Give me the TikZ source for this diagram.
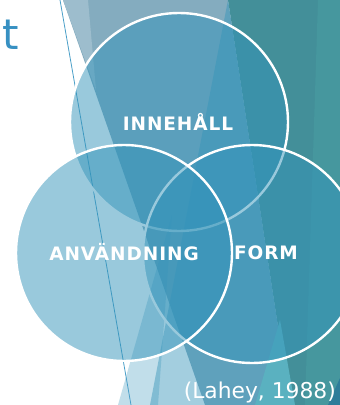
\documentclass[tikz,border=0pt]{standalone}
\usepackage{fontspec}
\setmainfont{Liberation Sans}
\newfontfamily\labelfont[LetterSpace=5]{DejaVu Sans}
\newfontfamily\citefont{DejaVu Sans}
\definecolor{slate}{HTML}{84ACBF}
\definecolor{slatelight}{HTML}{9DBDCD}
\definecolor{tealA}{HTML}{438F99}
\definecolor{tealB}{HTML}{46979E}
\definecolor{accent}{HTML}{3494BA}
\definecolor{turq}{HTML}{5AB1C0}
\definecolor{deep}{HTML}{2E7D9A}
\definecolor{titleblue}{HTML}{3790C2}
\definecolor{linecol}{HTML}{4A9FC8}
\tikzset{
  venn/.style={circle, draw=white, line width=2.4pt, fill=accent, fill opacity=0.5,
    text opacity=1, minimum size=#1, inner sep=0pt},
  vennlabel/.style={text=white, font=\labelfont\bfseries\fontsize{18.5}{20}\selectfont, inner sep=0pt},
  facet/.style={draw=none}
}
\begin{document}
\begin{tikzpicture}[x=1pt, y=-1pt]
\path[use as bounding box] (0,0) rectangle (340,405);
\clip (0,0) rectangle (340,405);
\fill[white] (0,0) rectangle (340,405);
% background facets
\fill[facet, slate] (63,0) -- (228,0) -- (290,405) -- (205,405) -- cycle;
\fill[facet, slatelight] (63,0) -- (88,0) -- (96,90) -- cycle;
\fill[facet, tealA] (228,0) -- (340,0) -- (340,405) -- (290,405) -- cycle;
\fill[facet, tealB] (318,0) -- (340,0) -- (340,405) -- (305,405) -- cycle;
\fill[facet, accent, opacity=0.45] (228,0) -- (290,405) -- (150,405) -- cycle;
\fill[facet, accent, opacity=0.3] (118,405) -- (172,215) -- (158,405) -- cycle;
\fill[facet, turq] (255,405) -- (280,320) -- (295,405) -- cycle;
\fill[facet, deep] (328,405) -- (340,378) -- (340,405) -- cycle;
\coordinate (lineA) at (60,0);
\coordinate (lineB) at (131,405);
\draw[linecol, line width=0.8pt] (lineA) -- (lineB);
% title fragment
\node[anchor=base west, inner sep=0pt, text=titleblue, font=\citefont\fontsize{42}{46}\selectfont] (title) at (2,49) {t};
% circles
\node[venn=218pt] (inne) at (179,122) {};
\node[venn=218pt] (form) at (252,254) {};
\node[venn=216pt] (anv) at (124,253) {};
% labels
\node[vennlabel] (inneL) at (178,122) {INNEHÅLL};
\node[vennlabel] (anvL) at (124,252) {ANVÄNDNING};
\node[vennlabel] (formL) at (266,253) {FORM};
\node[anchor=base east, inner sep=0pt, text=white, font=\citefont\fontsize{21.8}{26}\selectfont] (cite) at (336,398) {(Lahey, 1988)};
\end{tikzpicture}
\end{document}
